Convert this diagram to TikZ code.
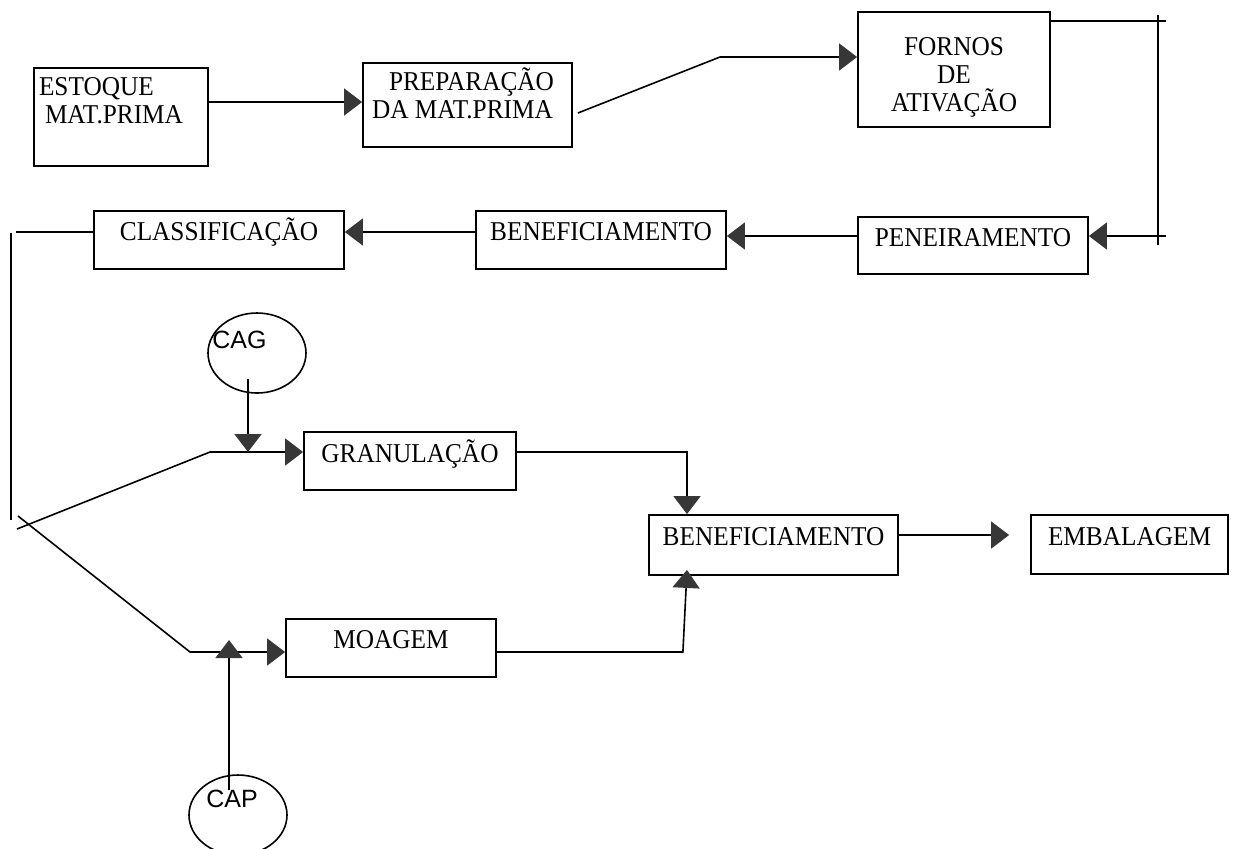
\documentclass[tikz,border=0pt]{standalone}
\usepackage{fontspec}
\setmainfont{Liberation Serif}[FakeStretch=0.93]
\newfontfamily\tagfont{Liberation Sans}
\usetikzlibrary{arrows.meta,shapes.geometric}
\definecolor{tipgray}{RGB}{55,55,55}
\newcommand{\boxlines}[5][\centering]{\parbox[c][#3][t]{#2}{#1\rule{0pt}{#4}#5}}
\tikzset{
  stage/.style={draw,line width=0.9pt,inner sep=0pt,font=\fontsize{13.6}{14}\selectfont},
  disc/.style={draw,ellipse,line width=0.8pt,inner sep=0pt,minimum width=49pt,minimum height=40pt},
  tag/.style={inner sep=0pt,anchor=base west,font=\tagfont\fontsize{12.5}{14}\selectfont},
  wire/.style={line width=0.8pt},
  flow/.style={wire,-{Triangle[length=9pt,width=13.5pt,color=tipgray,fill=tipgray]}}
}
\begin{document}
\begin{tikzpicture}[x=0.5pt,y=-0.5pt]
      \useasboundingbox (0,0) rectangle (1251,848);
      \node [stage] (estoque) at (121,117) {\boxlines[\raggedright]{87pt}{49pt}{13.5pt}{\hspace*{2.5pt}ESTOQUE\\\hspace*{5.5pt}MAT.PRIMA}};
      \node [stage] (prepara) at (467.5,105) {\boxlines[\raggedright]{104.5pt}{42pt}{13.5pt}{\hspace*{13pt}PREPARAÇÃO\\\hspace*{4.5pt}DA MAT.PRIMA}};
      \node [stage] (fornos) at (954,69.5) {\boxlines{96pt}{57.5pt}{21.5pt}{FORNOS\\DE\\ATIVAÇÃO}};
      \node [stage] (peneira) at (973,245.5) {\boxlines{115pt}{28.5pt}{14.5pt}{PENEIRAMENTO}};
      \node [stage] (benef) at (601,240) {\boxlines{125pt}{29pt}{14.5pt}{BENEFICIAMENTO}};
      \node [stage] (classif) at (219,240) {\boxlines{125pt}{29pt}{14.5pt}{CLASSIFICAÇÃO}};
      \node [stage] (granul) at (410,461) {\boxlines{106pt}{29pt}{15pt}{GRANULAÇÃO}};
      \node [stage] (moagem) at (391,648) {\boxlines{105pt}{29pt}{14.5pt}{MOAGEM}};
      \node [stage] (benef2) at (773.5,545) {\boxlines{124.5pt}{30pt}{15pt}{BENEFICIAMENTO}};
      \node [stage] (embal) at (1129.5,544.5) {\boxlines{98.5pt}{29.5pt}{15pt}{EMBALAGEM}};
      \node [disc] (cag) at (257,353) {};
      \node [tag] (cagname) at (212,348) {CAG};
      \node [disc] (cap) at (238,815) {};
      \node [tag] (capname) at (206,807) {CAP};
      \coordinate (bendA) at (720,57);
      \coordinate (railN) at (1158,15);
      \coordinate (railS) at (1158,245);
      \coordinate (trunkN) at (11,233);
      \coordinate (trunkS) at (11,520);
      \coordinate (forkG) at (17,529);
      \coordinate (forkM) at (18,516);
      \coordinate (bendG) at (210,452);
      \coordinate (bendM) at (190,652);
      \coordinate (cagdrop) at ([xshift=-4.5pt,yshift=-13pt]cag.center);
      \coordinate (capdrop) at ([xshift=-4.5pt,yshift=12.5pt]cap.center);
      \draw [flow] ([yshift=7.5pt]estoque.east) -- ([yshift=1.5pt]prepara.west);
      \draw [flow] ([xshift=2.5pt,yshift=-4pt]prepara.east) -- (bendA) -- ([yshift=6.25pt]fornos.west);
      \draw [wire] ([yshift=24.25pt]fornos.east) -- ++(115,0);
      \draw [wire] (railN) -- (railS);
      \draw [flow] ([xshift=38.5pt,yshift=4.75pt]peneira.east) -- ([yshift=4.75pt]peneira.east);
      \draw [flow] ([yshift=4.75pt]peneira.west) -- ([yshift=2pt]benef.east);
      \draw [flow] ([yshift=4pt]benef.west) -- ([yshift=4pt]classif.east);
      \draw [wire] ([yshift=4pt]classif.west) -- ++(-77,0);
      \draw [wire] (trunkN) -- (trunkS);
      \draw [flow] (forkG) -- (bendG) -- ([yshift=4.5pt]granul.west);
      \draw [flow] (forkM) -- (bendM) -- ([yshift=-2pt]moagem.west);
      \draw [flow] (cagdrop) -- (cagdrop |- bendG);
      \draw [flow] (capdrop) -- (capdrop |- bendM) -- ++(0,-12);
      \draw [flow] ([yshift=4.5pt]granul.east) -| ([xshift=-43.25pt]benef2.north);
      \draw [flow] ([yshift=-2pt]moagem.east) -- ++(186,0) -- ([xshift=-43.25pt,yshift=3pt]benef2.south);
      \draw [flow] ([yshift=5pt]benef2.east) -- ([xshift=-10.5pt,yshift=4.75pt]embal.west);
\end{tikzpicture}
\end{document}
